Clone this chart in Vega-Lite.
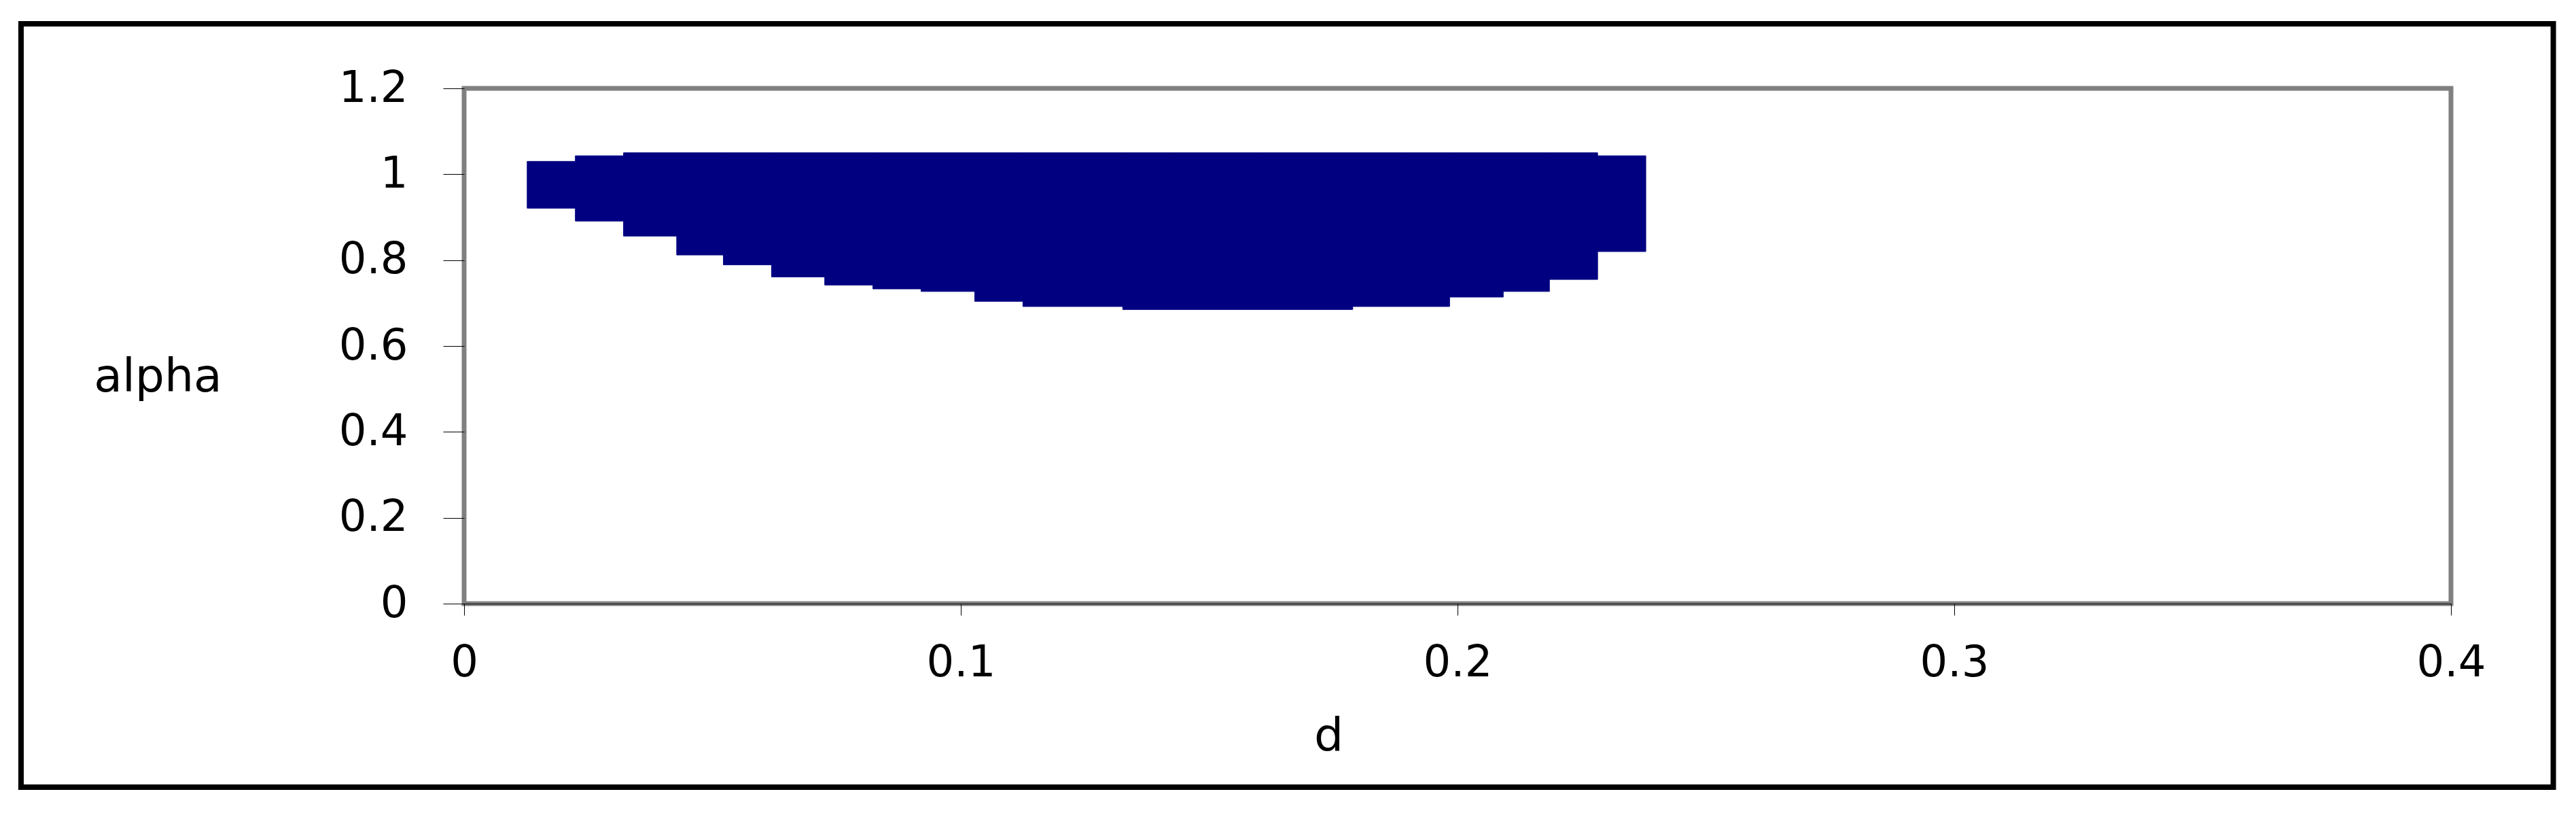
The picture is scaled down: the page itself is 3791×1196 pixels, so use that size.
{
  "$schema": "https://vega.github.io/schema/vega-lite/v6.json",
  "width": 2924,
  "height": 758,
  "autosize": {"type": "none"},
  "padding": {"left": 683, "top": 130, "right": 184, "bottom": 308},
  "background": "white",
  "config": {
    "view": {"stroke": null},
    "font": "DejaVu Sans"
  },
  "resolve": {"scale": {"x": "independent", "y": "independent"}},
  "layer": [
    {
      "data": {"values": [{}]},
      "mark": {"type": "rect", "fill": null, "fillOpacity": 0, "stroke": "black", "strokeWidth": 8, "clip": false},
      "encoding": {
        "x": {"datum": -0.0892, "type": "quantitative", "scale": {"domain": [0, 0.4], "nice": false, "zero": false}, "axis": null},
        "x2": {"datum": 0.4206},
        "y": {"datum": 1.3504, "type": "quantitative", "scale": {"domain": [0, 1.2], "nice": false}, "axis": null},
        "y2": {"datum": -0.4274}
      }
    },
    {
      "data": {"values": [{}]},
      "mark": {"type": "rect", "fill": null, "fillOpacity": 0, "stroke": "#808080", "strokeWidth": 7, "clip": false},
      "encoding": {
        "x": {"datum": 0, "type": "quantitative", "scale": {"domain": [0, 0.4], "nice": false, "zero": false}, "axis": null},
        "x2": {"datum": 0.4},
        "y": {"datum": 1.2, "type": "quantitative", "scale": {"domain": [0, 1.2], "nice": false}, "axis": null},
        "y2": {"datum": 0}
      }
    },
    {
      "data": {"values": [
        {"d0": 0.0127, "d1": 0.0224, "alpha_lo": 0.921, "alpha_hi": 1.030},
        {"d0": 0.0224, "d1": 0.0321, "alpha_lo": 0.891, "alpha_hi": 1.043},
        {"d0": 0.0321, "d1": 0.0428, "alpha_lo": 0.856, "alpha_hi": 1.050},
        {"d0": 0.0428, "d1": 0.0522, "alpha_lo": 0.812, "alpha_hi": 1.050},
        {"d0": 0.0522, "d1": 0.0619, "alpha_lo": 0.789, "alpha_hi": 1.050},
        {"d0": 0.0619, "d1": 0.0726, "alpha_lo": 0.761, "alpha_hi": 1.050},
        {"d0": 0.0726, "d1": 0.0823, "alpha_lo": 0.742, "alpha_hi": 1.050},
        {"d0": 0.0823, "d1": 0.0920, "alpha_lo": 0.733, "alpha_hi": 1.050},
        {"d0": 0.0920, "d1": 0.1028, "alpha_lo": 0.727, "alpha_hi": 1.050},
        {"d0": 0.1028, "d1": 0.1125, "alpha_lo": 0.704, "alpha_hi": 1.050},
        {"d0": 0.1125, "d1": 0.1226, "alpha_lo": 0.692, "alpha_hi": 1.050},
        {"d0": 0.1226, "d1": 0.1326, "alpha_lo": 0.692, "alpha_hi": 1.050},
        {"d0": 0.1326, "d1": 0.1419, "alpha_lo": 0.685, "alpha_hi": 1.050},
        {"d0": 0.1419, "d1": 0.1511, "alpha_lo": 0.685, "alpha_hi": 1.050},
        {"d0": 0.1511, "d1": 0.1604, "alpha_lo": 0.685, "alpha_hi": 1.050},
        {"d0": 0.1604, "d1": 0.1696, "alpha_lo": 0.685, "alpha_hi": 1.050},
        {"d0": 0.1696, "d1": 0.1789, "alpha_lo": 0.685, "alpha_hi": 1.050},
        {"d0": 0.1789, "d1": 0.1887, "alpha_lo": 0.692, "alpha_hi": 1.050},
        {"d0": 0.1887, "d1": 0.1984, "alpha_lo": 0.692, "alpha_hi": 1.050},
        {"d0": 0.1984, "d1": 0.2092, "alpha_lo": 0.714, "alpha_hi": 1.050},
        {"d0": 0.2092, "d1": 0.2185, "alpha_lo": 0.727, "alpha_hi": 1.050},
        {"d0": 0.2185, "d1": 0.2282, "alpha_lo": 0.755, "alpha_hi": 1.050},
        {"d0": 0.2282, "d1": 0.2379, "alpha_lo": 0.820, "alpha_hi": 1.043}
      ]},
      "mark": {"type": "rect", "color": "#000080", "stroke": "#000080", "strokeWidth": 1},
      "encoding": {
        "x": {
          "field": "d0", "type": "quantitative",
          "scale": {"domain": [0, 0.4], "nice": false, "zero": false},
          "axis": {
            "title": "d",
            "zindex": 2,
            "values": [0, 0.1, 0.2, 0.3, 0.4],
            "format": "~g",
            "grid": false,
            "domain": true, "domainColor": "black", "domainWidth": 1,
            "ticks": true, "tickColor": "black", "tickWidth": 1, "tickSize": 17,
            "labelFont": "DejaVu Sans", "labelFontSize": 64, "labelFontWeight": "normal", "labelColor": "black",
            "labelPadding": 89, "labelBaseline": "alphabetic",
            "labelFlush": false, "labelOverlap": false,
            "titleFont": "DejaVu Sans", "titleFontSize": 68, "titleFontWeight": "normal", "titleColor": "black",
            "titleX": 1272, "titleY": 216, "titleAlign": "center", "titleBaseline": "alphabetic"
          }
        },
        "x2": {"field": "d1"},
        "y": {
          "field": "alpha_lo", "type": "quantitative",
          "scale": {"domain": [0, 1.2], "nice": false},
          "axis": {
            "title": "alpha",
            "zindex": 2,
            "values": [0, 0.2, 0.4, 0.6, 0.8, 1, 1.2],
            "format": "~g",
            "grid": false,
            "domain": false,
            "ticks": true, "tickColor": "black", "tickWidth": 1, "tickSize": 31,
            "labelFont": "DejaVu Sans", "labelFontSize": 64, "labelFontWeight": "normal", "labelColor": "black",
            "labelPadding": 52,
            "labelFlush": false, "labelOverlap": false,
            "titleFont": "DejaVu Sans", "titleFontSize": 68, "titleFontWeight": "normal", "titleColor": "black",
            "titleAngle": 0, "titleX": -451, "titleY": 445, "titleAlign": "center", "titleBaseline": "alphabetic"
          }
        },
        "y2": {"field": "alpha_hi"}
      }
    }
  ]
}
